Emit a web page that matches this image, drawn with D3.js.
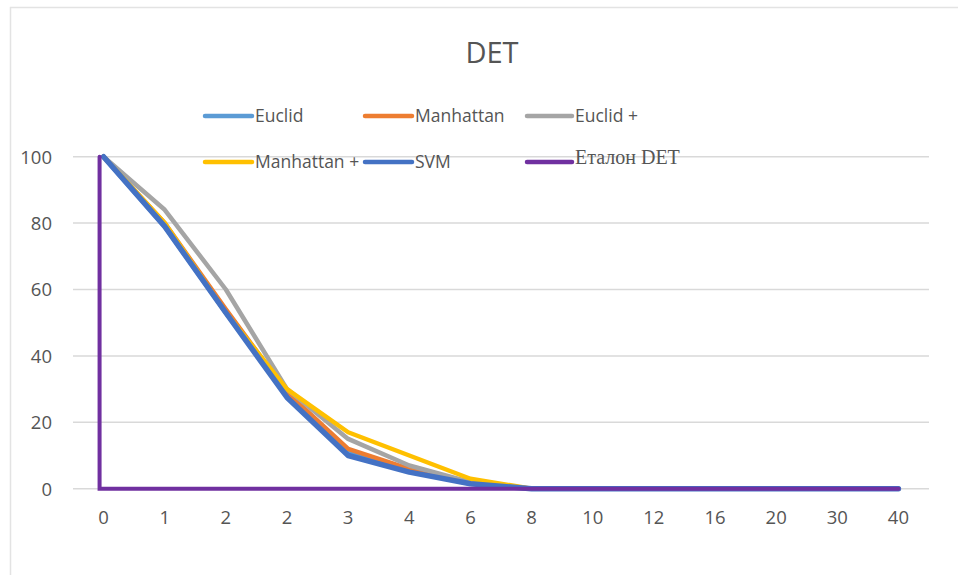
<!DOCTYPE html>
<html>
<head>
<meta charset="utf-8">
<script src="https://cdn.jsdelivr.net/npm/d3@7"></script>
<style>
  html, body { margin: 0; padding: 0; background: #fff; }
  svg { display: block; }
</style>
</head>
<body>
<svg id="chart" width="958" height="575"></svg>
<script>
// Category labels along the x axis (the "2" label really does appear twice)
const categories = ["0", "1", "2", "2", "3", "4", "6", "8", "10", "12", "16", "20", "30", "40"];

// Error rates (%) per category for each method
const euclid      = [100, 79, 53, 28, 11, 5.5, 1.5, 0, 0, 0, 0, 0, 0, 0];
const manhattan   = [100, 80, 54, 29, 12, 6, 2, 0, 0, 0, 0, 0, 0, 0];
const euclidPlus  = [100, 84, 60, 30, 15, 7, 2, 0, 0, 0, 0, 0, 0, 0];
const manhattanPlus = [100, 80, 53, 30, 17, 10, 3, 0, 0, 0, 0, 0, 0, 0];
const svm         = [100, 79, 53, 27.5, 10, 5, 1.5, 0, 0, 0, 0, 0, 0, 0];

// Reference (ideal) DET curve: straight down at the first category, then flat at zero
const etalonIndex = [0, 0, 13];
const etalonValues = [100, 0, 0];

const yTicks = [0, 20, 40, 60, 80, 100];

const seriesNames = ["Euclid", "Manhattan", "Euclid +", "Manhattan +", "SVM", "Еталон DET"];
const seriesColors = ["#5B9BD5", "#ED7D31", "#A5A5A5", "#FFC000", "#4472C4", "#7030A0"];

const svg = d3.select("#chart");
const textColor = "#555555";
const sans = "'Open Sans', sans-serif";

// Outer chart frame
svg.append("path")
  .attr("d", "M10.5,580 V7.5 H960")
  .attr("fill", "none")
  .attr("stroke", "#E3E3E3")
  .attr("stroke-width", 1.5);

const plot = { left: 73, right: 929, top: 156.7, bottom: 488.7 };

const x = d3.scaleBand()
  .domain(d3.range(categories.length))
  .range([plot.left, plot.right]);
const xc = i => x(i) + x.bandwidth() / 2;

const y = d3.scaleLinear()
  .domain([0, 100])
  .range([plot.bottom, plot.top]);

// Horizontal gridlines
svg.append("g")
  .selectAll("line")
  .data(yTicks)
  .join("line")
  .attr("x1", plot.left)
  .attr("x2", plot.right)
  .attr("y1", d => y(d))
  .attr("y2", d => y(d))
  .attr("stroke", "#D9D9D9")
  .attr("stroke-width", 1.5);

// Y axis labels
const yAxis = d3.axisLeft(y).tickValues(yTicks).tickSize(0).tickPadding(0);
const gy = svg.append("g").attr("transform", `translate(52,0)`).call(yAxis);
gy.select(".domain").remove();
gy.selectAll("text")
  .attr("fill", textColor)
  .attr("font-family", sans)
  .attr("font-size", 18.5)
  .attr("dy", "0.35em");

// X axis labels
const xAxis = d3.axisBottom(x).tickFormat(i => categories[i]).tickSize(0).tickPadding(0);
const gx = svg.append("g").attr("transform", `translate(0,${plot.bottom + 22})`).call(xAxis);
gx.select(".domain").remove();
gx.selectAll("text")
  .attr("fill", textColor)
  .attr("font-family", sans)
  .attr("font-size", 18.5)
  .attr("dy", "0.7em");

// Data lines
const line = d3.line()
  .x((d, i) => xc(i))
  .y(d => y(d));

const allSeries = [euclid, manhattan, euclidPlus, manhattanPlus, svm];
svg.append("g")
  .selectAll("path")
  .data(allSeries)
  .join("path")
  .attr("d", d => line(d))
  .attr("fill", "none")
  .attr("stroke", (d, i) => seriesColors[i])
  .attr("stroke-width", (d, i) => i === 4 ? 5.5 : 4.5)
  .attr("stroke-linejoin", "round")
  .attr("stroke-linecap", "round");

// Reference curve, nudged left so it sits beside the start of the other curves
const etalonShift = -4;
const etalonLine = d3.line()
  .x(d => xc(d[0]) + (d[0] === 0 ? etalonShift : 0))
  .y(d => y(d[1]));
svg.append("path")
  .attr("d", etalonLine(etalonIndex.map((v, i) => [v, etalonValues[i]])))
  .attr("fill", "none")
  .attr("stroke", seriesColors[5])
  .attr("stroke-width", 4)
  .attr("stroke-linejoin", "miter")
  .attr("stroke-linecap", "round");

// Title
svg.append("text")
  .attr("x", 492)
  .attr("y", 63)
  .attr("text-anchor", "middle")
  .attr("fill", textColor)
  .attr("font-family", sans)
  .attr("font-size", 29)
  .text("DET");

// Legend: two rows of three entries
const legendCols = [205, 365, 527];
const legendRows = [116, 162];
const legend = svg.append("g")
  .selectAll("g")
  .data(seriesNames)
  .join("g")
  .attr("transform", (d, i) => `translate(${legendCols[i % 3]},${legendRows[Math.floor(i / 3)]})`);

legend.append("line")
  .attr("x1", 0)
  .attr("x2", (d, i) => i % 3 === 2 ? 45 : 47)
  .attr("y1", 0)
  .attr("y2", 0)
  .attr("stroke", (d, i) => seriesColors[i])
  .attr("stroke-width", 4.5)
  .attr("stroke-linecap", "round");

legend.append("text")
  .attr("x", (d, i) => i % 3 === 2 ? 48 : 50)
  .attr("y", (d, i) => i === 5 ? -5 : 0)
  .attr("dy", "0.36em")
  .attr("fill", textColor)
  .attr("font-family", (d, i) => i === 5 ? "'Liberation Serif', serif" : sans)
  .attr("font-size", (d, i) => i === 5 ? 20 : 17.5)
  .text(d => d);
</script>
</body>
</html>
